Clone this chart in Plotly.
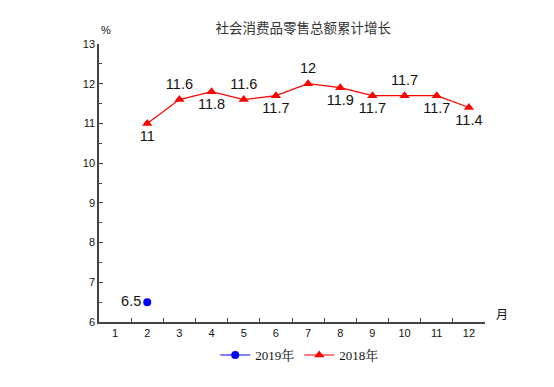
import plotly.graph_objects as go

months = [str(m) for m in range(1, 13)]
months_2018 = [str(m) for m in range(2, 13)]
values_2018 = [11, 11.6, 11.8, 11.6, 11.7, 12, 11.9, 11.7, 11.7, 11.7, 11.4]
label_pos_2018 = ["bottom center", "top center", "bottom center", "top center", "bottom center",
                  "top center", "bottom center", "bottom center", "top center", "bottom center",
                  "bottom center"]
months_2019 = ["2"]
values_2019 = [6.5]

fig = go.Figure()
fig.add_trace(go.Scatter(
    x=months_2019, y=values_2019, name="2019年", mode="lines+markers+text",
    line=dict(color="#0000FF", width=1.2), marker=dict(symbol="circle", size=8, color="#0000FF"),
    text=[str(v) for v in values_2019], textposition="middle left",
    textfont=dict(family="Liberation Sans, Arial", size=14.5, color="#111"),
    cliponaxis=False,
))
fig.add_trace(go.Scatter(
    x=months_2018, y=values_2018, name="2018年", mode="lines+markers+text",
    line=dict(color="#FF0000", width=1.2), marker=dict(symbol="triangle-up", size=9, color="#FF0000"),
    text=[f"{v:g}" for v in values_2018], textposition=label_pos_2018,
    textfont=dict(family="Liberation Sans, Arial", size=14.5, color="#111"),
    cliponaxis=False,
))

fig.update_layout(
    width=554, height=387,
    margin=dict(l=91, r=77, t=36, b=73, autoexpand=False),
    paper_bgcolor="white", plot_bgcolor="white",
    title=dict(text="社会消费品零售总额累计增长", x=0.533, xanchor="center", y=0.948, yanchor="middle",
               font=dict(family="Noto Sans CJK SC", size=13.5, color="#333")),
    xaxis=dict(type="category", categoryorder="array", categoryarray=months,
               tickson="boundaries", ticks="inside", ticklen=4, tickcolor="#444",
               showline=True, linecolor="#444", linewidth=1.5, showgrid=False, zeroline=False,
               tickfont=dict(family="Liberation Sans, Arial", size=11, color="#111"),
               range=[-0.5, 11.5]),
    yaxis=dict(range=[6, 13], tickvals=[6, 7, 8, 9, 10, 11, 12, 13], ticks="inside", ticklen=4,
               tickcolor="#444", showline=True, linecolor="#444", linewidth=1.5, showgrid=False,
               zeroline=False, minor=dict(ticks="inside", tick0=6.5, dtick=1, ticklen=3, tickcolor="#444"),
               tickfont=dict(family="Liberation Sans, Arial", size=11, color="#111")),
    legend=dict(orientation="h", x=0.52, xanchor="center", y=-0.065, yanchor="top",
                font=dict(family="Liberation Serif, Noto Serif CJK SC, Noto Sans CJK SC", size=13, color="#111"),
                itemwidth=30),
    showlegend=True,
)
fig.add_annotation(text="%", xref="paper", yref="paper", x=0.018, y=1.05, xanchor="center", yanchor="middle",
                   showarrow=False, font=dict(family="Liberation Sans, Arial", size=11, color="#111"))
fig.add_annotation(text="月", xref="paper", yref="paper", x=1.044, y=0.032, xanchor="center", yanchor="middle",
                   showarrow=False, font=dict(family="Noto Sans CJK SC", size=12, color="#111"))

fig.write_html("out.html")
